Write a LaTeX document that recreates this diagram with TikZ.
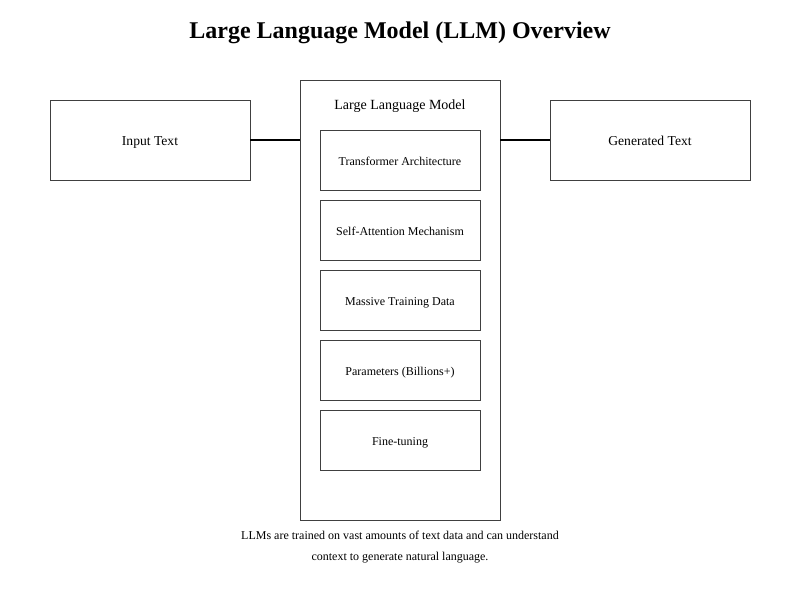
\documentclass[tikz,border=0pt]{standalone}
\usepackage{fontspec}
\setmainfont{Liberation Serif}
\begin{document}
\begin{tikzpicture}[x=0.75pt,y=-0.75pt,
  box/.style={draw=black!75,line width=0.75pt,inner sep=0pt,anchor=north west},
  lbl/.style={font=\fontsize{10.2}{12}\selectfont,anchor=mid},
  sub/.style={font=\fontsize{9}{11}\selectfont,anchor=mid},
  conn/.style={line width=1.5pt,black}]
\useasboundingbox[fill=white] (0,0) rectangle (800,600);
\node[font=\bfseries\fontsize{18}{22}\selectfont] (title) at (400,33) {Large Language Model (LLM) Overview};
\node[box,minimum width=200*0.75pt,minimum height=80*0.75pt] (in) at (50,100) {};
\node[lbl] (inlbl) at (150,142) {Input Text};
\node[box,minimum width=200*0.75pt,minimum height=440*0.75pt] (llm) at (300,80) {};
\node[font=\fontsize{10.5}{12}\selectfont,anchor=mid] (llmlbl) at (400,106.5) {Large Language Model};
\node[box,minimum width=200*0.75pt,minimum height=80*0.75pt] (out) at (550,100) {};
\node[lbl] (outlbl) at (650,142) {Generated Text};
\foreach \y/\t/\n in {130/Transformer Architecture/c1,200/Self-Attention Mechanism/c2,270/Massive Training Data/c3,340/Parameters (Billions+)/c4,410/Fine-tuning/c5}{
  \node[box,minimum width=160*0.75pt,minimum height=60*0.75pt] (\n) at (320,\y) {};
  \node[sub] (\n t) at (400,\y+32.5) {\t};
}
\coordinate (inr) at (250,140);
\coordinate (llml) at (300,140);
\coordinate (llmr) at (500,140);
\coordinate (outl) at (550,140);
\draw[conn] (inr) -- (llml);
\draw[conn] (llmr) -- (outl);
\node[font=\fontsize{9}{15.5}\selectfont,align=center] (cap) at (400,547) {LLMs are trained on vast amounts of text data and can understand\\context to generate natural language.};
\end{tikzpicture}
\end{document}
